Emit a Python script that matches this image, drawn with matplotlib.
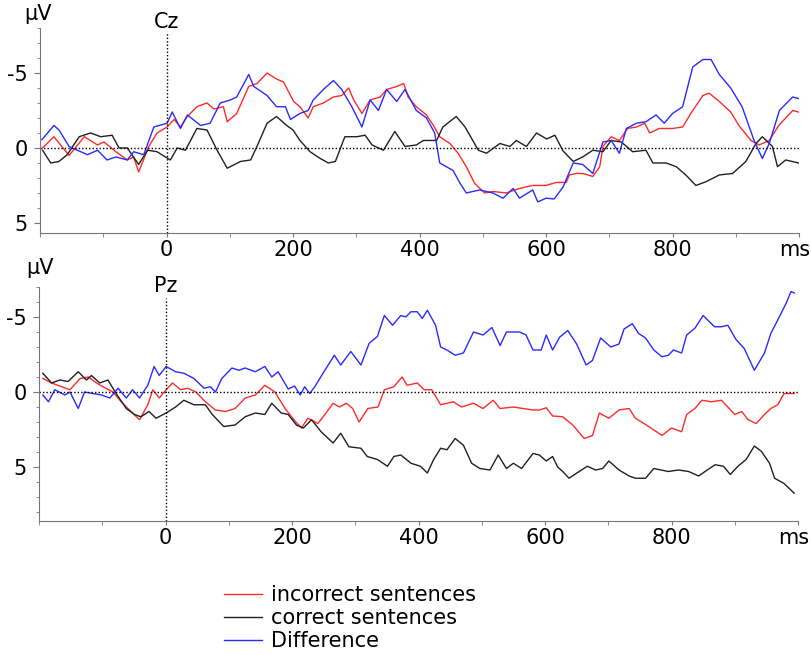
import matplotlib
matplotlib.use('Agg')
import matplotlib.pyplot as plt
from matplotlib.lines import Line2D
from matplotlib.ticker import MultipleLocator
from matplotlib.transforms import ScaledTranslation

plt.rcParams['axes.unicode_minus'] = False
plt.rcParams['font.family'] = 'DejaVu Sans'

# ---- Cz ----
cz_incorrect_t = [-196, -178, -154, -130, -109, -99, -80, -62, -52, -44, -28, -15, 1, 12, 22, 33, 48, 64, 75, 90,
                  96, 111, 130, 143, 159, 174, 185, 201, 211, 224, 232, 248, 264, 277, 288, 296, 309, 322, 338, 348,
                  364, 375, 382, 395, 411, 422, 432, 448, 461, 474, 487, 503, 516, 537, 558, 579, 600, 616, 632, 637,
                  648, 658, 674, 685, 690, 703, 716, 729, 743, 756, 764, 779, 800, 816, 829, 848, 858, 874, 892, 905,
                  924, 937, 953, 968, 990, 999]
cz_incorrect_uv = [0, -0.75, 0.5, -0.75, -0.2, -0.4, 0.25, 0.8, 0.6, 1.6, -0.1, -1.0, -1.4, -1.9, -1.4, -2.1, -2.75,
                   -3.0, -2.6, -2.75, -1.75, -2.3, -4.1, -4.3, -5.0, -4.6, -4.4, -3.1, -2.75, -2.0, -2.75, -3.0, -3.4,
                   -3.5, -4.0, -3.2, -2.3, -3.2, -3.4, -3.9, -4.1, -4.3, -3.4, -2.75, -2.2, -1.5, -0.75, -0.3, 0.35,
                   1.25, 2.35, 3.0, 2.9, 3.0, 2.7, 2.5, 2.5, 2.3, 2.3, 1.8, 1.7, 1.7, 1.9, 1.25, -0.1, -0.75, -0.5,
                   -1.3, -1.4, -1.65, -1.0, -1.3, -1.3, -1.4, -2.3, -3.5, -3.65, -3.1, -2.4, -1.5, -0.5, -0.2, -0.5,
                   -1.5, -2.5, -2.4]

cz_correct_t = [-196, -183, -170, -157, -138, -120, -104, -86, -75, -62, -44, -30, -15, 6, 17, 30, 48, 64, 80, 96,
                117, 133, 143, 159, 174, 190, 200, 211, 227, 243, 256, 267, 282, 301, 314, 325, 343, 361, 377, 395,
                406, 427, 437, 458, 472, 493, 506, 527, 543, 553, 569, 585, 601, 614, 627, 643, 658, 674, 690, 703,
                719, 737, 758, 769, 790, 806, 821, 837, 853, 874, 895, 916, 932, 942, 958, 966, 979, 999]
cz_correct_uv = [0.15, 1.0, 0.9, 0.45, -0.75, -1.0, -0.75, -0.85, 0, 0, 1.1, 0.15, 0.25, 0.8, 0, 0.15, -1.3, -1.2,
                 0.15, 1.35, 0.9, 0.8, -0.1, -1.65, -2.1, -1.5, -1.2, -0.5, 0.25, 0.7, 1.0, 0.9, -0.75, -0.75, -0.85,
                 -0.2, 0.15, -1.1, -0.1, -0.2, -0.5, -0.5, -1.4, -2.1, -1.4, 0.15, 0.35, -0.3, -0.1, -0.5, -0.1, -1.0,
                 -0.6, -0.85, 0.2, 0.9, 0.6, 0.15, 0.25, -0.5, -0.4, 0.25, 0.15, 1.0, 1.0, 1.25, 1.8, 2.5, 2.25, 1.8,
                 1.7, 0.9, -0.3, -0.75, -0.1, 1.25, 0.8, 1.0]

cz_diff_t = [-197, -178, -170, -154, -141, -125, -109, -94, -80, -62, -52, -36, -20, 1, 9, 22, 33, 54, 69, 85, 101,
             111, 130, 138, 159, 174, 188, 196, 211, 224, 232, 248, 264, 277, 293, 309, 322, 335, 348, 364, 377, 395,
             411, 424, 432, 453, 464, 474, 495, 516, 532, 548, 558, 579, 587, 600, 613, 627, 643, 658, 674, 690, 703,
             716, 727, 743, 758, 774, 787, 800, 816, 832, 848, 861, 874, 892, 910, 929, 942, 953, 969, 990, 999]
cz_diff_uv = [-0.55, -1.5, -1.2, -0.1, 0.15, 0.45, 0.15, 0.8, 0.6, 0.8, 0.25, 0.45, -1.4, -1.65, -2.4, -1.3, -2.2,
              -1.5, -1.65, -3.0, -3.2, -3.4, -4.9, -4.1, -3.5, -2.75, -2.75, -1.9, -2.3, -2.5, -3.2, -3.9, -4.5, -3.9,
              -2.75, -1.4, -3.2, -2.5, -3.9, -3.1, -3.9, -2.5, -2.0, -1.0, 1.0, 1.5, 2.35, 3.0, 2.8, 3.0, 3.35, 2.7,
              3.35, 2.8, 3.6, 3.35, 3.4, 2.6, 1.0, 1.1, 1.7, -0.4, -0.5, 0.35, -1.3, -1.65, -1.75, -2.2, -1.65, -2.3,
              -2.75, -5.4, -5.9, -5.9, -4.9, -4.0, -2.75, -0.5, 0.7, -0.3, -2.5, -3.4, -3.3]

# ---- Pz ----
pz_incorrect_t = [-194, -180, -164, -151, -135, -122, -109, -99, -83, -70, -57, -41, -28, -20, -10, 1, 11, 24, 35, 48,
                  63, 79, 95, 110, 126, 142, 157, 173, 189, 204, 215, 225, 241, 252, 265, 275, 286, 296, 306, 320,
                  336, 346, 361, 374, 382, 398, 409, 421, 435, 455, 468, 487, 502, 518, 529, 550, 565, 581, 591, 602,
                  612, 628, 644, 662, 675, 686, 701, 717, 733, 743, 764, 785, 800, 816, 824, 837, 848, 863, 879, 900,
                  911, 921, 934, 947, 957, 968, 978, 994]
pz_incorrect_uv = [-0.9, -0.6, -0.35, -0.15, -0.9, -1.0, -0.6, -0.35, 0, 0.65, 1.2, 1.85, 0.85, -0.15, 0.4, -0.15,
                   -0.6, -0.15, -0.25, 0, 0.65, 1.2, 1.3, 1.1, 0.4, 0.2, -0.45, 0, 1.1, 1.9, 2.4, 1.75, 2.1, 1.5, 0.75,
                   1.0, 0.75, 1.1, 2.0, 1.1, 1.0, -0.15, -0.35, -1.0, -0.45, -0.6, -0.15, -0.15, 0.85, 0.65, 1.0, 0.75,
                   1.1, 0.55, 1.1, 1.0, 1.1, 1.2, 1.2, 1.05, 1.6, 1.65, 2.2, 3.1, 2.9, 1.4, 1.75, 1.2, 1.1, 1.75, 2.3,
                   2.9, 2.4, 2.65, 1.5, 1.1, 0.55, 0.65, 0.55, 1.5, 1.3, 1.85, 2.1, 1.5, 1.1, 0.85, 0.1, 0.1]

pz_correct_t = [-194, -180, -167, -154, -138, -125, -117, -104, -91, -78, -62, -49, -39, -26, -15, 1, 16, 29, 45, 63,
                74, 92, 110, 126, 142, 157, 168, 183, 194, 207, 218, 231, 246, 265, 277, 290, 309, 319, 335, 351, 361,
                372, 388, 403, 414, 424, 435, 445, 458, 471, 484, 497, 513, 526, 539, 550, 563, 581, 591, 602, 612,
                620, 628, 638, 654, 667, 680, 691, 701, 717, 733, 743, 759, 772, 795, 811, 827, 843, 853, 869, 882,
                893, 905, 918, 931, 942, 955, 963, 978, 994]
pz_correct_uv = [-1.25, -0.6, -0.8, -0.7, -1.35, -0.8, -1.1, -0.6, -0.8, 0.1, 1.1, 1.5, 1.65, 1.3, 1.75, 1.4, 1.0,
                 0.55, 0.85, 0.85, 1.5, 2.3, 2.2, 1.65, 1.4, 1.5, 0.75, 1.4, 1.5, 2.2, 2.4, 1.85, 2.65, 3.4, 2.75, 3.65,
                 3.75, 4.3, 4.5, 4.95, 4.3, 4.2, 4.75, 4.95, 5.4, 4.5, 3.75, 3.85, 3.1, 3.55, 4.75, 5.1, 5.2, 4.2, 5.1,
                 4.75, 5.1, 4.1, 4.2, 4.6, 4.3, 5.0, 5.3, 5.75, 5.3, 4.95, 5.2, 5.1, 4.6, 5.2, 5.6, 5.75, 5.75, 5.1,
                 5.3, 5.2, 5.3, 5.6, 5.3, 4.85, 4.95, 5.5, 4.95, 4.5, 3.6, 3.95, 4.75, 5.75, 6.1, 6.75]

pz_diff_t = [-194, -185, -175, -159, -151, -138, -128, -115, -101, -88, -75, -62, -52, -41, -28, -18, -10, 1, 16, 29,
             45, 61, 71, 79, 89, 105, 116, 126, 142, 157, 168, 178, 194, 204, 213, 220, 228, 236, 249, 267, 277, 293,
             309, 322, 335, 346, 359, 372, 380, 388, 398, 406, 414, 427, 435, 445, 458, 471, 487, 502, 516, 529, 539,
             550, 560, 570, 581, 594, 602, 612, 623, 636, 650, 665, 675, 688, 704, 717, 725, 738, 748, 759, 772, 785,
             795, 803, 816, 824, 837, 850, 868, 879, 889, 902, 915, 931, 947, 957, 968, 981, 989, 994]
pz_diff_uv = [0.2, 0.65, -0.15, 0.2, 0, 1.1, 0, 0.1, 0.2, 0.4, -0.25, 0.4, -0.15, 0.4, -0.45, -1.7, -1.1, -1.7,
              -1.35, -1.25, -0.9, -0.25, -0.35, 0, -0.9, -1.6, -1.45, -1.6, -1.35, -1.7, -1.0, -1.35, -0.2, -0.4, 0.2,
              -0.35, 0.1, -0.35, -1.25, -2.45, -1.8, -2.7, -1.8, -3.25, -3.7, -5.1, -4.45, -5.1, -5.0, -5.35, -5.35,
              -4.9, -5.45, -4.45, -3.0, -2.8, -2.45, -2.6, -4.0, -3.8, -4.3, -3.1, -4.0, -4.0, -4.0, -3.8, -2.8, -2.8,
              -3.8, -2.8, -3.65, -4.1, -3.2, -1.8, -2.1, -3.6, -3.0, -3.2, -4.2, -4.55, -3.9, -3.6, -2.8, -2.35,
              -2.45, -2.8, -2.6, -3.8, -4.25, -5.1, -4.35, -4.35, -4.45, -3.5, -2.9, -1.45, -2.6, -3.9, -4.8, -5.9,
              -6.7, -6.6]

labels = ['incorrect sentences', 'correct sentences', 'Difference']
colors = ['#ff2a2a', '#202020', '#2a2aff']
xtick_vals = [0, 200, 400, 600, 800, 1000]
xtick_labels = ['0', '200', '400', '600', '800', 'ms']

fs = 15

fig = plt.figure(figsize=(8.11, 6.55), dpi=100)
ax1 = fig.add_axes([40 / 811, 1 - 233 / 655, 759 / 811, 205 / 655])
ax2 = fig.add_axes([39 / 811, 1 - 521 / 655, 759 / 811, 234 / 655])

panels = [
    (ax1, 'Cz', (5.67, -8), -7.65,
     [(cz_incorrect_t, cz_incorrect_uv), (cz_correct_t, cz_correct_uv), (cz_diff_t, cz_diff_uv)]),
    (ax2, 'Pz', (8.6, -7), -6.27,
     [(pz_incorrect_t, pz_incorrect_uv), (pz_correct_t, pz_correct_uv), (pz_diff_t, pz_diff_uv)]),
]

for ax, name, ylim, top, series in panels:
    for (t, uv), c in zip(series, colors):
        ax.plot(t, uv, color=c, lw=1.0)
    ax.axhline(0, color='black', lw=1.0, ls=(0, (1, 1.5)))
    ax.plot([0, 0], [ylim[0], top], color='black', lw=1.0, ls=(0, (1, 1.5)), clip_on=False)
    ax.text(0, top - 0.1, name, ha='center', va='bottom', fontsize=fs)
    ax.set_xlim(-200, 1000)
    ax.set_ylim(*ylim)
    for s in ['top', 'right']:
        ax.spines[s].set_visible(False)
    for s in ['left', 'bottom']:
        ax.spines[s].set_color('#777777')
    ax.set_xticks(xtick_vals)
    ax.set_xticklabels(xtick_labels)
    ax.xaxis.set_minor_locator(MultipleLocator(100))
    ax.set_yticks([-5, 0, 5])
    ax.yaxis.set_minor_locator(MultipleLocator(1))
    ax.tick_params(axis='both', which='both', color='#777777', labelsize=fs)
    ax.tick_params(axis='y', which='major', length=4, pad=5)
    ax.tick_params(axis='y', which='minor', length=2)
    ax.tick_params(axis='x', which='major', length=3, pad=2)
    ax.tick_params(axis='x', which='minor', length=3)
    # keep the "ms" unit label inside the picture
    ms_label = ax.get_xticklabels()[-1]
    ms_label.set_transform(ms_label.get_transform() + ScaledTranslation(-3 / 72, 0, fig.dpi_scale_trans))

fig.text(38 / 811, 1 - 14 / 655, 'µV', ha='center', va='center', fontsize=fs)
fig.text(40 / 811, 1 - 268 / 655, 'µV', ha='center', va='center', fontsize=fs)

handles = [Line2D([], [], color=c, lw=1.0) for c in colors]
fig.legend(handles, labels, loc='upper left', bbox_to_anchor=(224 / 811, 1 - 585 / 655),
           frameon=False, fontsize=fs, handlelength=1.8, handletextpad=0.45,
           labelspacing=0.15, borderpad=0, borderaxespad=0)

fig.savefig('out.png', dpi=100)
